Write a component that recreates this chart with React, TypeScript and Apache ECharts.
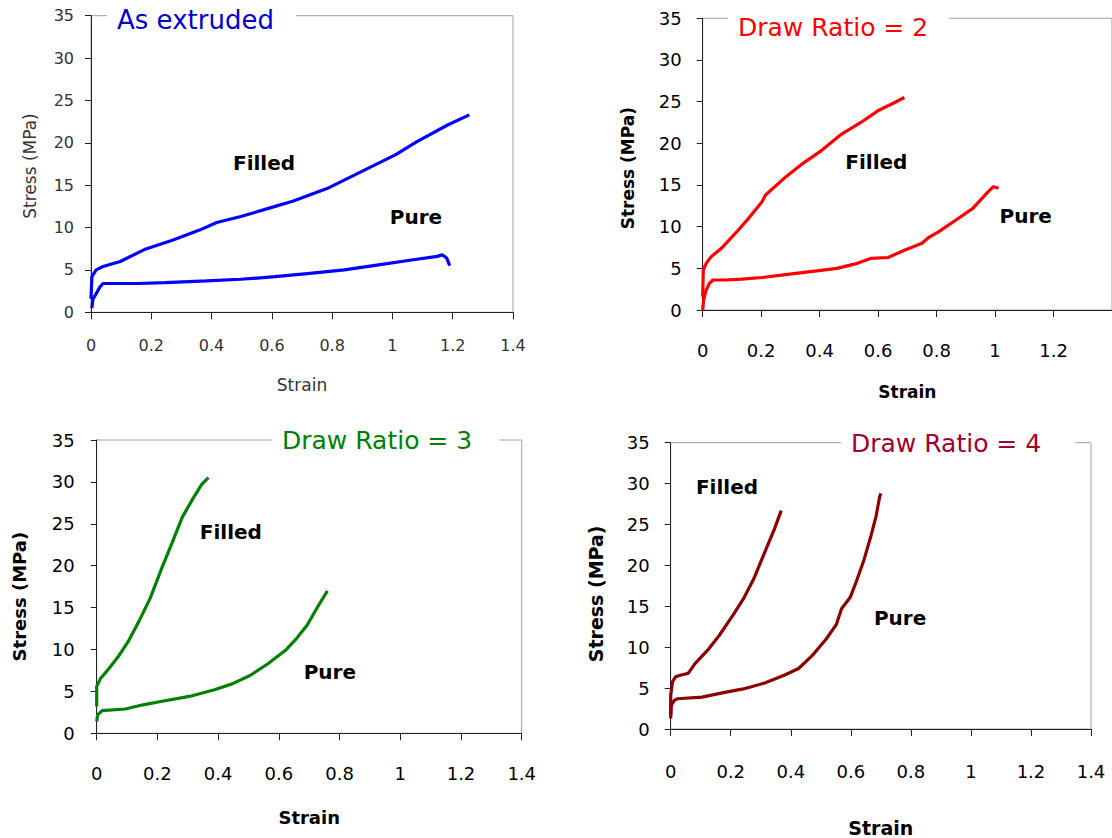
import React, { useEffect, useRef } from "react";
import * as echarts from "echarts";

// ---- data (strain, stress MPa) ----
const asExtrudedFilled = [
  [0, 1.6], [0.003, 4.2], [0.017, 5.0], [0.04, 5.4], [0.097, 6.0], [0.177, 7.4], [0.27, 8.5],
  [0.36, 9.7], [0.417, 10.6], [0.497, 11.3], [0.611, 12.5], [0.669, 13.1], [0.783, 14.6],
  [0.897, 16.6], [1.011, 18.6], [1.08, 20.1], [1.183, 22.1], [1.255, 23.3],
];
const asExtrudedPure = [
  [0.003, 0.5], [0.006, 1.5], [0.017, 2.2], [0.03, 3.0], [0.04, 3.4], [0.154, 3.4], [0.246, 3.5],
  [0.383, 3.7], [0.497, 3.9], [0.611, 4.2], [0.726, 4.6], [0.84, 5.0], [0.954, 5.6],
  [1.069, 6.2], [1.149, 6.6], [1.165, 6.8], [1.18, 6.4], [1.19, 5.5],
];
const dr2Filled = [
  [0, 1.6], [0.002, 4.8], [0.012, 5.6], [0.029, 6.4], [0.064, 7.4], [0.122, 9.6], [0.157, 11.0],
  [0.203, 13.0], [0.215, 13.8], [0.285, 16.0], [0.343, 17.6], [0.401, 19.0], [0.471, 21.0],
  [0.541, 22.5], [0.599, 23.9], [0.657, 24.9], [0.69, 25.5],
];
const dr2Pure = [
  [0, 0], [0.003, 1.2], [0.012, 2.4], [0.023, 3.2], [0.035, 3.6], [0.076, 3.6], [0.134, 3.7],
  [0.203, 3.9], [0.297, 4.3], [0.39, 4.7], [0.459, 5.0], [0.529, 5.6], [0.576, 6.2],
  [0.634, 6.3], [0.692, 7.2], [0.75, 8.0], [0.773, 8.7], [0.808, 9.4], [0.866, 10.8],
  [0.924, 12.2], [0.971, 14.0], [0.994, 14.8], [1.012, 14.6],
];
const dr3Filled = [
  [0, 3.2], [0, 5.6], [0.012, 6.5], [0.035, 7.5], [0.07, 9.1], [0.106, 11.1], [0.141, 13.5],
  [0.176, 16.1], [0.211, 19.4], [0.247, 22.6], [0.282, 25.8], [0.317, 28.0], [0.346, 29.7],
  [0.368, 30.5],
];
const dr3Pure = [
  [0, 1.4], [0.003, 2.2], [0.018, 2.7], [0.094, 2.9], [0.153, 3.4], [0.211, 3.8], [0.305, 4.4],
  [0.388, 5.2], [0.446, 5.9], [0.505, 6.9], [0.564, 8.3], [0.622, 9.9], [0.658, 11.3],
  [0.693, 12.9], [0.728, 15.1], [0.76, 17.0],
];
const dr4Filled = [
  [0, 1.7], [0, 4.1], [0.006, 5.8], [0.017, 6.4], [0.035, 6.6], [0.058, 6.8], [0.081, 8.0],
  [0.127, 9.8], [0.161, 11.4], [0.207, 13.9], [0.242, 15.9], [0.276, 18.3], [0.311, 21.4],
  [0.345, 24.4], [0.368, 26.7],
];
const dr4Pure = [
  [0, 1.3], [0.002, 2.9], [0.012, 3.5], [0.023, 3.7], [0.104, 3.9], [0.184, 4.5], [0.242, 4.9],
  [0.311, 5.6], [0.38, 6.6], [0.426, 7.4], [0.472, 9.0], [0.518, 11.0], [0.552, 12.8],
  [0.569, 14.7], [0.598, 16.1], [0.621, 18.3], [0.644, 20.7], [0.667, 23.6], [0.684, 26.0],
  [0.696, 28.4], [0.7, 28.8],
];

const panelTitles = ["As extruded", "Draw Ratio = 2", "Draw Ratio = 3", "Draw Ratio = 4"];
const seriesLabels = ["Filled", "Pure"];
const panelSeries = [
  [asExtrudedFilled, asExtrudedPure],
  [dr2Filled, dr2Pure],
  [dr3Filled, dr3Pure],
  [dr4Filled, dr4Pure],
];
// positions of the "Filled" / "Pure" annotations in data units
const annotationPositions = [
  [[0.574, 17.6], [1.078, 11.2]],
  [[0.594, 17.8], [1.105, 11.3]],
  [[0.442, 24.0], [0.768, 7.3]],
  [[0.1875, 29.6], [0.764, 13.6]],
];
const xAxisName = "Strain";
const yAxisName = "Stress (MPa)";
const xMin = 0, xMax = 1.4, xStep = 0.2;
const yMin = 0, yMax = 35, yStep = 5;

// ---- layout & styles ----
const FONT = "DejaVu Sans";
const layout = [
  {
    grid: { left: 91, top: 15.7, width: 422, height: 296.6 },
    line: "#0000ff", title: "#0000cc", titleSize: 26,
    titlePos: { left: 107, top: 5 }, titlePad: [0, 22, 0, 10],
    tickSize: 16, tickColor: "#333", tickWeight: "normal",
    xMargin: 25, yMargin: 17, nameSize: 17, nameWeight: "normal", nameColor: "#333",
    xNameGap: 64, yNameGap: 53, yNameShift: 2, showMax: true,
  },
  {
    grid: { left: 702.7, top: 18.3, width: 416, height: 291.7 },
    line: "#ff0000", title: "#ff0000", titleSize: 25,
    titlePos: { left: 728, top: 12.5 }, titlePad: [0, 21, 0, 10],
    tickSize: 18, tickColor: "#000", tickWeight: "normal",
    xMargin: 31, yMargin: 21, nameSize: 17, nameWeight: "bold", nameColor: "#000",
    xNameGap: 73, yNameGap: 66, yNameShift: 4, showMax: false,
  },
  {
    grid: { left: 96.7, top: 440, width: 425, height: 293.3 },
    line: "#008000", title: "#008000", titleSize: 25,
    titlePos: { left: 272, top: 425.5 }, titlePad: [0, 27, 0, 10],
    tickSize: 18, tickColor: "#000", tickWeight: "normal",
    xMargin: 31, yMargin: 22, nameSize: 18, nameWeight: "bold", nameColor: "#000",
    xNameGap: 75, yNameGap: 68, yNameShift: 10, showMax: true,
  },
  {
    grid: { left: 670.7, top: 442.7, width: 420.3, height: 288.3 },
    line: "#8b0000", title: "#a0002a", titleSize: 25,
    titlePos: { left: 841, top: 428 }, titlePad: [0, 34, 0, 10],
    tickSize: 18, tickColor: "#000", tickWeight: "normal",
    xMargin: 33, yMargin: 21, nameSize: 19, nameWeight: "bold", nameColor: "#000",
    xNameGap: 89, yNameGap: 65, yNameShift: 8, showMax: true,
  },
];

function buildOption() {
  const grid: any[] = [];
  const xAxis: any[] = [];
  const yAxis: any[] = [];
  const series: any[] = [];
  const title: any[] = [];

  layout.forEach((L, i) => {
    grid.push({
      ...L.grid,
      show: true,
      borderColor: "#a0a0a0",
      borderWidth: 1,
      backgroundColor: "transparent",
    });
    xAxis.push({
      type: "value",
      gridIndex: i,
      min: xMin,
      max: xMax,
      interval: xStep,
      name: xAxisName,
      nameLocation: "middle",
      nameGap: L.xNameGap,
      nameTextStyle: { fontFamily: FONT, fontSize: L.nameSize, fontWeight: L.nameWeight, color: L.nameColor },
      axisLine: { show: true, onZero: false, lineStyle: { color: "#222", width: 1 } },
      axisTick: { show: true, inside: false, length: 7, lineStyle: { color: "#222" } },
      axisLabel: {
        margin: L.xMargin,
        fontFamily: FONT,
        fontSize: L.tickSize,
        color: L.tickColor,
        fontWeight: L.tickWeight,
        showMaxLabel: L.showMax,
        showMinLabel: true,
      },
      splitLine: { show: false },
    });
    yAxis.push({
      type: "value",
      gridIndex: i,
      min: yMin,
      max: yMax,
      interval: yStep,
      name: yAxisName,
      nameLocation: "middle",
      nameGap: L.yNameGap,
      nameTextStyle: {
        fontFamily: FONT,
        fontSize: L.nameSize,
        fontWeight: L.nameWeight,
        color: L.nameColor,
        padding: [0, L.yNameShift * 2, 0, 0],
      },
      axisLine: { show: true, onZero: false, lineStyle: { color: "#222", width: 1 } },
      axisTick: { show: true, inside: false, length: 6, lineStyle: { color: "#222" } },
      axisLabel: {
        margin: L.yMargin,
        fontFamily: FONT,
        fontSize: L.tickSize,
        color: L.tickColor,
        fontWeight: L.tickWeight,
      },
      splitLine: { show: false },
    });
    title.push({
      text: panelTitles[i],
      left: L.titlePos.left,
      top: L.titlePos.top,
      padding: L.titlePad,
      backgroundColor: "#ffffff",
      textStyle: {
        fontFamily: FONT,
        fontSize: L.titleSize,
        fontWeight: "normal",
        color: L.title,
        lineHeight: 30,
      },
    });
    panelSeries[i].forEach((data, j) => {
      series.push({
        type: "line",
        name: panelTitles[i] + " " + seriesLabels[j],
        xAxisIndex: i,
        yAxisIndex: i,
        data,
        showSymbol: false,
        symbol: "none",
        lineStyle: { color: L.line, width: 3.2 },
        itemStyle: { color: L.line },
        z: 3,
      });
    });
    series.push({
      type: "scatter",
      name: panelTitles[i] + " labels",
      xAxisIndex: i,
      yAxisIndex: i,
      symbolSize: 0,
      silent: true,
      itemStyle: { color: "#000", opacity: 1 },
      data: annotationPositions[i].map((p, j) => ({ name: seriesLabels[j], value: p })),
      label: {
        show: true,
        position: "inside",
        formatter: (p: any) => p.name,
        fontFamily: FONT,
        fontSize: 20,
        fontWeight: "bold",
        color: "#000000",
        textBorderWidth: 0,
        opacity: 1,
      },
      z: 4,
    });
  });

  return {
    animation: false,
    backgroundColor: "#ffffff",
    title,
    grid,
    xAxis,
    yAxis,
    series,
  };
}

export default function App() {
  const ref = useRef<HTMLDivElement>(null);
  useEffect(() => {
    if (!ref.current) return;
    const chart = echarts.init(ref.current, undefined, { renderer: "svg" });
    chart.setOption(buildOption() as any);
    return () => chart.dispose();
  }, []);
  return (
    <div
      ref={ref}
      style={{ position: "absolute", left: 0, top: 0, width: 1112, height: 838, background: "#fff" }}
    />
  );
}
